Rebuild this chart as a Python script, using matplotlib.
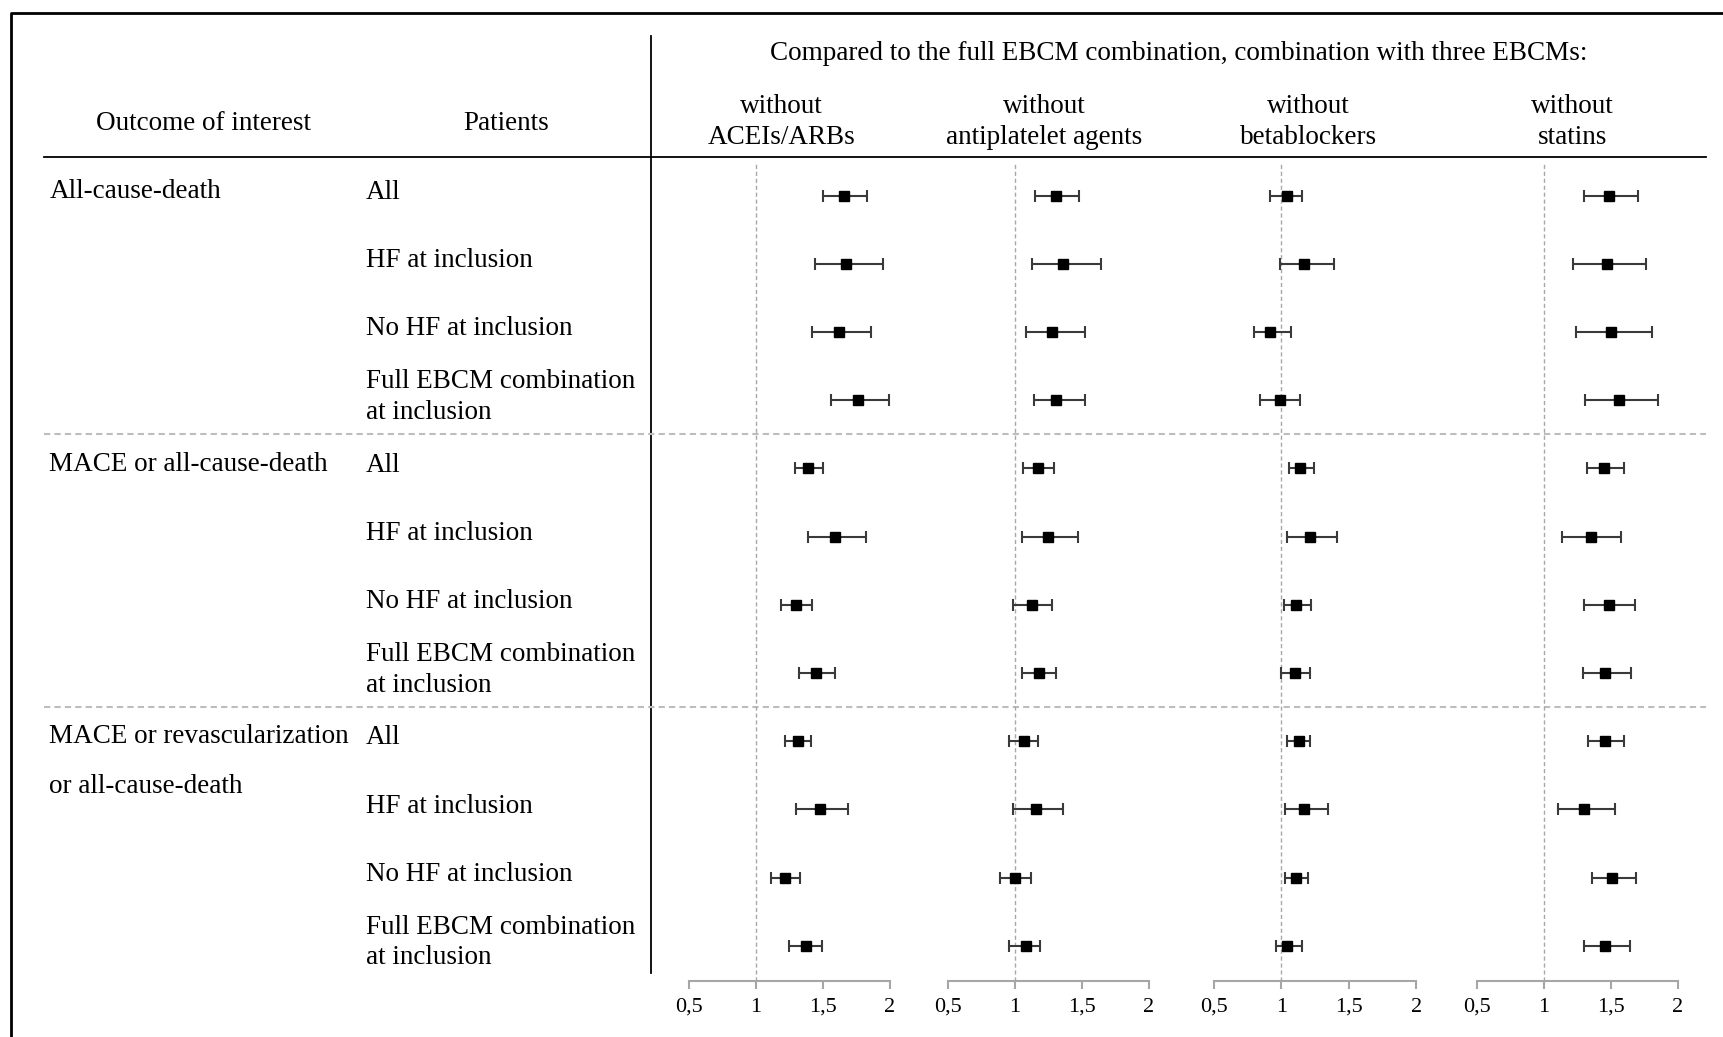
import matplotlib

matplotlib.use("Agg")
import matplotlib.pyplot as plt
import numpy as np

plt.rcParams["font.family"] = ["Liberation Serif", "DejaVu Serif"]

# panels (comparison columns)
panels = ["without\nACEIs/ARBs", "without\nantiplatelet agents", "without\nbetablockers", "without\nstatins"]

outcomes = ["All-cause-death", "MACE or all-cause-death", "MACE or revascularization"]
patients = ["All", "HF at inclusion", "No HF at inclusion", "Full EBCM combination\nat inclusion"]

# point estimates, rows = 3 outcomes x 4 patient groups, one list per panel
est_acei = [1.66, 1.67, 1.62, 1.76, 1.39, 1.59, 1.30, 1.45, 1.31, 1.48, 1.22, 1.37]
lo_acei = [1.50, 1.44, 1.42, 1.56, 1.29, 1.39, 1.19, 1.32, 1.22, 1.30, 1.11, 1.25]
hi_acei = [1.83, 1.95, 1.86, 1.99, 1.50, 1.82, 1.42, 1.59, 1.41, 1.69, 1.33, 1.49]

est_antipl = [1.31, 1.36, 1.28, 1.31, 1.17, 1.25, 1.13, 1.18, 1.07, 1.16, 1.00, 1.08]
lo_antipl = [1.15, 1.13, 1.08, 1.14, 1.06, 1.05, 0.99, 1.05, 0.96, 0.99, 0.89, 0.96]
hi_antipl = [1.48, 1.64, 1.52, 1.52, 1.29, 1.47, 1.28, 1.31, 1.17, 1.36, 1.12, 1.19]

est_beta = [1.04, 1.17, 0.92, 0.99, 1.14, 1.21, 1.11, 1.10, 1.13, 1.17, 1.11, 1.04]
lo_beta = [0.92, 0.99, 0.80, 0.84, 1.06, 1.04, 1.02, 1.00, 1.04, 1.03, 1.03, 0.96]
hi_beta = [1.15, 1.39, 1.07, 1.14, 1.24, 1.41, 1.22, 1.21, 1.21, 1.35, 1.20, 1.15]

est_stat = [1.49, 1.47, 1.50, 1.56, 1.45, 1.35, 1.49, 1.46, 1.46, 1.30, 1.51, 1.46]
lo_stat = [1.30, 1.22, 1.24, 1.31, 1.32, 1.14, 1.30, 1.29, 1.33, 1.11, 1.36, 1.30]
hi_stat = [1.70, 1.76, 1.81, 1.85, 1.60, 1.58, 1.68, 1.65, 1.60, 1.53, 1.69, 1.64]

estimates = [est_acei, est_antipl, est_beta, est_stat]
lowers = [lo_acei, lo_antipl, lo_beta, lo_stat]
uppers = [hi_acei, hi_antipl, hi_beta, hi_stat]

ticks = [0.5, 1, 1.5, 2]
tick_labels = ["0,5", "1", "1,5", "2"]

W, H = 1568, 943  # layout grid
FS = 19.5
ROW0, ROWSTEP = 178, 62
TOP, BOTTOM = 143, 892


def row_y(i):
    return ROW0 + ROWSTEP * i


fig = plt.figure(figsize=(17.24, 10.37), dpi=100)
bg = fig.add_axes([0, 0, 1, 1])
bg.set_xlim(0, W)
bg.set_ylim(H, 0)
bg.axis("off")

# frame
bg.plot([10, 10, W + 5], [H + 5, 12, 12], color="black", lw=2)

# table rules
bg.plot([40, 1552], [TOP, TOP], color="black", lw=1.3)
bg.plot([592, 592], [33, 885], color="black", lw=1.3)
for sep in [3.5, 7.5]:
    bg.plot([40, 1552], [row_y(sep), row_y(sep)], color="#bdbdbd", lw=1.5, ls=(0, (3, 2)))

# headers
bg.text(185, 112, "Outcome of interest", fontsize=FS, ha="center", va="center")
bg.text(460, 112, "Patients", fontsize=FS, ha="center", va="center")
bg.text(1072, 49, "Compared to the full EBCM combination, combination with three EBCMs:",
        fontsize=FS, ha="center", va="center")
for cx, name in zip([711, 950, 1190, 1430], panels):
    bg.text(cx, 111, name, fontsize=FS, ha="center", va="center", linespacing=1.3)

# left labels
for k, outcome in enumerate(outcomes):
    bg.text(45, row_y(4 * k) - 4, outcome, fontsize=FS, ha="left", va="center")
    for j, pat in enumerate(patients):
        bg.text(333, row_y(4 * k + j) - 3, pat, fontsize=FS, ha="left", va="center", linespacing=1.3)
bg.text(45, 715, "or all-cause-death", fontsize=FS, ha="left", va="center")

# forest panels
panel_x = [(626.6, 809.5), (862, 1045), (1104, 1288), (1343, 1526)]
rows = np.arange(len(est_acei))
for (x0, x1), est, lo, hi in zip(panel_x, estimates, lowers, uppers):
    ax = fig.add_axes([x0 / W, 1 - BOTTOM / H, (x1 - x0) / W, (BOTTOM - TOP) / H])
    ax.set_xlim(0.5, 2)
    ax.set_ylim((BOTTOM - ROW0) / ROWSTEP, (TOP - ROW0) / ROWSTEP)
    ax.patch.set_alpha(0)
    est = np.array(est)
    xerr = [est - np.array(lo), np.array(hi) - est]
    ax.axvline(1, ymin=0, ymax=(BOTTOM - 149) / (BOTTOM - TOP), color="#a8a8a8", lw=1, ls=(0, (3, 2)))
    ax.errorbar(est, rows, xerr=xerr, fmt="s", color="black", ecolor="#3a3a3a",
                elinewidth=1.5, capsize=4, capthick=1.5, markersize=7.5)
    for s in ["top", "right", "left"]:
        ax.spines[s].set_visible(False)
    ax.spines["bottom"].set_color("#a6a6a6")
    ax.spines["bottom"].set_linewidth(1.5)
    ax.set_yticks([])
    ax.set_xticks(ticks)
    ax.set_xticklabels(tick_labels, fontsize=16)
    ax.tick_params(axis="x", colors="#a6a6a6", length=6, width=1.5, pad=6, labelcolor="black")

fig.savefig("out.png", dpi=100)
